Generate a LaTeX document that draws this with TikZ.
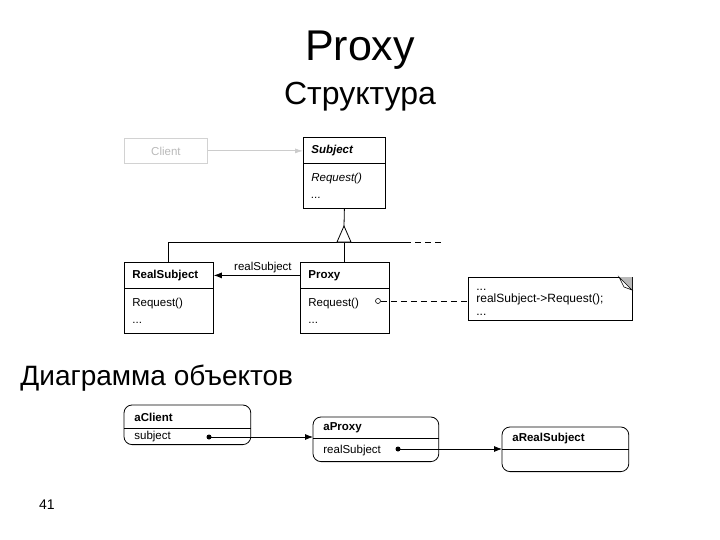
\documentclass[tikz,border=0pt]{standalone}
\usepackage{fontspec}
\setmainfont{Liberation Sans}
\usetikzlibrary{positioning,arrows.meta}

\begin{document}
\begin{tikzpicture}[x=1pt, y=-1pt, line width=0.8pt, hdr/.style={anchor=north west, inner xsep=8pt, inner ysep=0pt, align=left, minimum height=26pt, font=\fontsize{11.5}{12}\selectfont\bfseries}, bdy/.style={inner xsep=8pt, inner ysep=0pt, align=left, minimum height=44pt, font=\fontsize{11.5}{17}\selectfont}, ohdr/.style={anchor=north west, inner xsep=10pt, inner ysep=0pt, align=left, font=\fontsize{11.5}{12}\selectfont\bfseries}, obdy/.style={inner xsep=10pt, inner ysep=0pt, align=left, font=\fontsize{11.5}{12}\selectfont}, dot/.style={circle, fill, inner sep=0pt, minimum size=5pt}, tip/.style={-{Latex[length=8pt, width=6pt]}}, dsh/.style={dash pattern=on 6pt off 4pt}]
		\useasboundingbox (0,0) rectangle (720,540);
		\node (title) at (360,50) {\fontsize{43}{45}\selectfont Proxy};
		\node (struct) at (360,97) {\fontsize{32}{34}\selectfont Структура};
		\node[anchor=west, inner sep=0pt] (objd) at (20,378) {\fontsize{28}{30}\selectfont Диаграмма объектов};
		\node (page) at (47,505) {\fontsize{14}{16}\selectfont 41};
		\node[draw=gray!35, text=gray!55, anchor=north west, minimum width=83pt, minimum height=25pt, inner sep=0pt, font=\fontsize{11.5}{12}\selectfont] (client) at (124,138) {Client};
		\node[hdr, text width=66pt] (subj) at (303,137) {\itshape Subject};
		\node[bdy, text width=66pt, below=0pt of subj] (subjb) {\itshape Request()\\...};
		\node[hdr, text width=73pt] (real) at (124,262) {RealSubject};
		\node[bdy, text width=73pt, below=0pt of real] (realb) {Request()\\...};
		\node[hdr, text width=73pt] (proxy) at (300,262) {Proxy};
		\node[bdy, text width=73pt, below=0pt of proxy] (proxyb) {Request()\\...};
		\draw (subj.north west) rectangle (subjb.south east);
		\draw (subj.south west) -- (subj.south east);
		\draw (real.north west) rectangle (realb.south east);
		\draw (real.south west) -- (real.south east);
		\draw (proxy.north west) rectangle (proxyb.south east);
		\draw (proxy.south west) -- (proxy.south east);
		\node[draw, anchor=north west, minimum width=164pt, minimum height=43pt, inner sep=0pt] (note) at (468,277) {};
		\node[anchor=west, inner xsep=8pt, inner ysep=0pt, align=left, font=\fontsize{12}{12.5}\selectfont] (notet) at ([yshift=-3pt]note.west) {...\\realSubject->Request();\\...};
		\fill[gray!55] (619,277) -- (632,277) -- (632,290) -- cycle;
		\draw[fill=white, line width=0.6pt] (619,277) -- (632,290) -- (624,287) -- cycle;
		\node[circle, draw, fill=white, inner sep=0pt, minimum size=5pt, line width=0.6pt] (pc) at (378,301) {};
		\draw[gray!40, -{Latex[length=8pt, width=5pt]}] (client.east) -- (client.east -| subj.west);
		\coordinate (apex) at (344,226);
		\coordinate (busl) at (168,242);
		\coordinate (busr) at (405,242);
		\coordinate (buse) at (441,242);
		\draw (subjb.south) -- (apex);
		\draw (busl) -- (busr);
		\draw[dsh] (busr) -- (buse);
		\draw (busl) -- (busl |- real.north);
		\draw (apex |- busl) -- (apex |- proxy.north);
		\draw[fill=white] (apex) -- (337,242) -- (351,242) -- cycle;
		\draw[tip] (proxy.west) -- node[above, pos=0.43, inner sep=2pt, font=\fontsize{11.5}{12}\selectfont] {realSubject} (real.east);
		\draw[dsh] (pc) -- (pc -| note.west);
		\node[ohdr, text width=106pt, minimum height=23pt] (acl) at (124,405) {aClient};
		\node[obdy, text width=106pt, minimum height=15pt, below=0pt of acl] (aclb) {subject};
		\node[ohdr, text width=105pt, minimum height=21pt] (apx) at (313,417) {aProxy};
		\node[obdy, text width=105pt, minimum height=22pt, below=0pt of apx] (apxb) {realSubject};
		\node[ohdr, text width=106pt, minimum height=22pt] (ars) at (502,427) {aRealSubject};
		\node[obdy, text width=106pt, minimum height=21pt, below=0pt of ars] (arsb) {};
		\draw[rounded corners=8pt] (acl.north west) rectangle (aclb.south east);
		\draw (acl.south west) -- (acl.south east);
		\draw[rounded corners=8pt] (apx.north west) rectangle (apxb.south east);
		\draw (apx.south west) -- (apx.south east);
		\draw[rounded corners=8pt] (ars.north west) rectangle (arsb.south east);
		\draw (ars.south west) -- (ars.south east);
		\node[dot] (acld) at (209,437) {};
		\node[dot] (apxd) at (398,449) {};
		\draw[tip] (acld.center) -- (acld.center -| apx.west);
		\draw[tip] (apxd.center) -- (apxd.center -| ars.west);
	\end{tikzpicture}
\end{document}
